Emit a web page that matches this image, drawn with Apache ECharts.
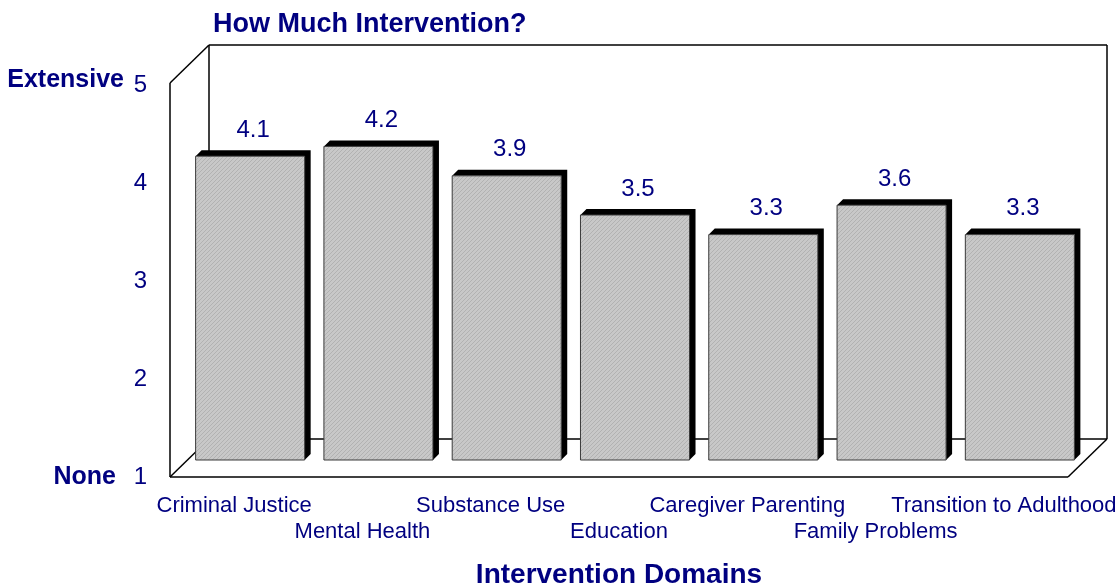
<!DOCTYPE html>
<html>
<head>
<meta charset="utf-8">
<script src="https://cdn.jsdelivr.net/npm/echarts@6/dist/echarts.min.js"></script>
<style>
  html, body { margin: 0; padding: 0; background: #fff; }
  #main { width: 1119px; height: 586px; }
</style>
</head>
<body>
<div id="main"></div>
<script>
const categories = ['Criminal Justice', 'Mental Health', 'Substance Use', 'Education', 'Caregiver Parenting', 'Family Problems', 'Transition to Adulthood']
const values = [4.1, 4.2, 3.9, 3.5, 3.3, 3.6, 3.3]
const yMin = 1
const yMax = 5
const yStep = 1

const NAVY = '#000080'
const FONT = '"Liberation Sans", Arial, Helvetica, sans-serif'
// pseudo 3d: front plane -> back wall, front plane -> bar plane
const BACK = [39, -38]
const BAR_PLANE = [16, -17]
const BAR_DEPTH = 6

// fine diagonal hatch like the old office fill
function makeHatch() {
  const c = document.createElement('canvas')
  c.width = 4
  c.height = 4
  const ctx = c.getContext('2d')
  ctx.fillStyle = '#c8c8c8'
  ctx.fillRect(0, 0, 4, 4)
  ctx.fillStyle = '#b2b2b2'
  for (let i = 0; i < 4; i++) ctx.fillRect(i, 3 - i, 1, 1)
  return c
}
const hatch = makeHatch()

function renderFrame(params, api) {
  const band = api.size([1, 0])[0]
  const lt = api.coord([0, yMax])
  const lb = api.coord([0, yMin])
  const rb = api.coord([categories.length - 1, yMin])
  const x0 = lt[0] - band / 2
  const x1 = rb[0] + band / 2
  const yT = lt[1] - 2
  const yB = lb[1]
  const bx = BACK[0]
  const by = BACK[1]
  const lines = [
    [x0, yT, x0, yB],
    [x0, yT, x0 + bx, yT + by],
    [x0 + bx, yT + by, x1 + bx, yT + by],
    [x0 + bx, yT + by, x0 + bx, yB + by],
    [x1 + bx, yT + by, x1 + bx, yB + by],
    [x0 + bx, yB + by, x1 + bx, yB + by],
    [x0, yB, x1, yB],
    [x0, yB, x0 + bx, yB + by],
    [x1, yB, x1 + bx, yB + by]
  ]
  return {
    type: 'group',
    children: lines.map(l => ({
      type: 'line',
      shape: { x1: l[0], y1: l[1], x2: l[2], y2: l[3] },
      style: { stroke: '#000', lineWidth: 1.5 }
    }))
  }
}

function renderBar(params, api) {
  const i = api.value(0)
  const v = api.value(1)
  const top = api.coord([i, v])
  const base = api.coord([i, yMin])
  const w = api.size([1, 0])[0] * 0.85
  const d = BAR_DEPTH
  const x = top[0] + BAR_PLANE[0] - w / 2
  const y = top[1] + BAR_PLANE[1]
  const h = base[1] - top[1]
  return {
    type: 'group',
    children: [
      {
        type: 'polygon',
        shape: { points: [[x, y], [x + d, y - d], [x + w + d, y - d], [x + w + d, y + h - d], [x + w, y + h], [x + w, y]] },
        style: { fill: '#000' }
      },
      {
        type: 'rect',
        shape: { x: x, y: y, width: w, height: h },
        style: { fill: { image: hatch, repeat: 'repeat' }, stroke: '#3a3a3a', lineWidth: 1 }
      },
      {
        type: 'text',
        x: x + w / 2 + d / 2,
        y: y - d - 8,
        style: {
          text: v.toFixed(1),
          fill: NAVY,
          fontSize: 24,
          fontFamily: FONT,
          align: 'center',
          verticalAlign: 'bottom'
        }
      }
    ]
  }
}

const chart = echarts.init(document.getElementById('main'))
chart.setOption({
  backgroundColor: '#ffffff',
  animation: false,
  title: {
    text: 'How Much Intervention?',
    left: 208,
    top: 6,
    textStyle: { color: NAVY, fontSize: 27, fontWeight: 'bold', fontFamily: FONT }
  },
  grid: { left: 170, top: 85, width: 898, height: 392, outerBoundsMode: 'none' },
  xAxis: {
    type: 'category',
    data: categories,
    axisLine: { show: false },
    axisTick: { show: false },
    axisLabel: {
      interval: 0,
      margin: 16,
      color: NAVY,
      fontSize: 22,
      fontFamily: FONT,
      lineHeight: 26,
      formatter: (v, i) => (i % 2 ? '\n' + v : v)
    },
    name: 'Intervention Domains',
    nameLocation: 'middle',
    nameGap: 84,
    nameTextStyle: { color: NAVY, fontSize: 28, fontWeight: 'bold', fontFamily: FONT }
  },
  yAxis: {
    type: 'value',
    min: yMin,
    max: yMax,
    interval: yStep,
    axisLine: { show: false },
    axisTick: { show: false },
    splitLine: { show: false },
    axisLabel: { margin: 23, color: NAVY, fontSize: 24, fontFamily: FONT }
  },
  graphic: [
    {
      type: 'text', right: 1119 - 124, top: 68,
      style: { text: 'Extensive', fill: NAVY, fontSize: 25, fontWeight: 'bold', fontFamily: FONT }
    },
    {
      type: 'text', right: 1119 - 116, top: 465,
      style: { text: 'None', fill: NAVY, fontSize: 25, fontWeight: 'bold', fontFamily: FONT }
    }
  ],
  series: [
    {
      type: 'custom',
      z: 1,
      silent: true,
      renderItem: renderFrame,
      data: [[0, yMin]]
    },
    {
      type: 'custom',
      z: 2,
      renderItem: renderBar,
      encode: { x: 0, y: 1 },
      data: values.map((v, i) => [i, v])
    }
  ]
})
</script>
</body>
</html>
